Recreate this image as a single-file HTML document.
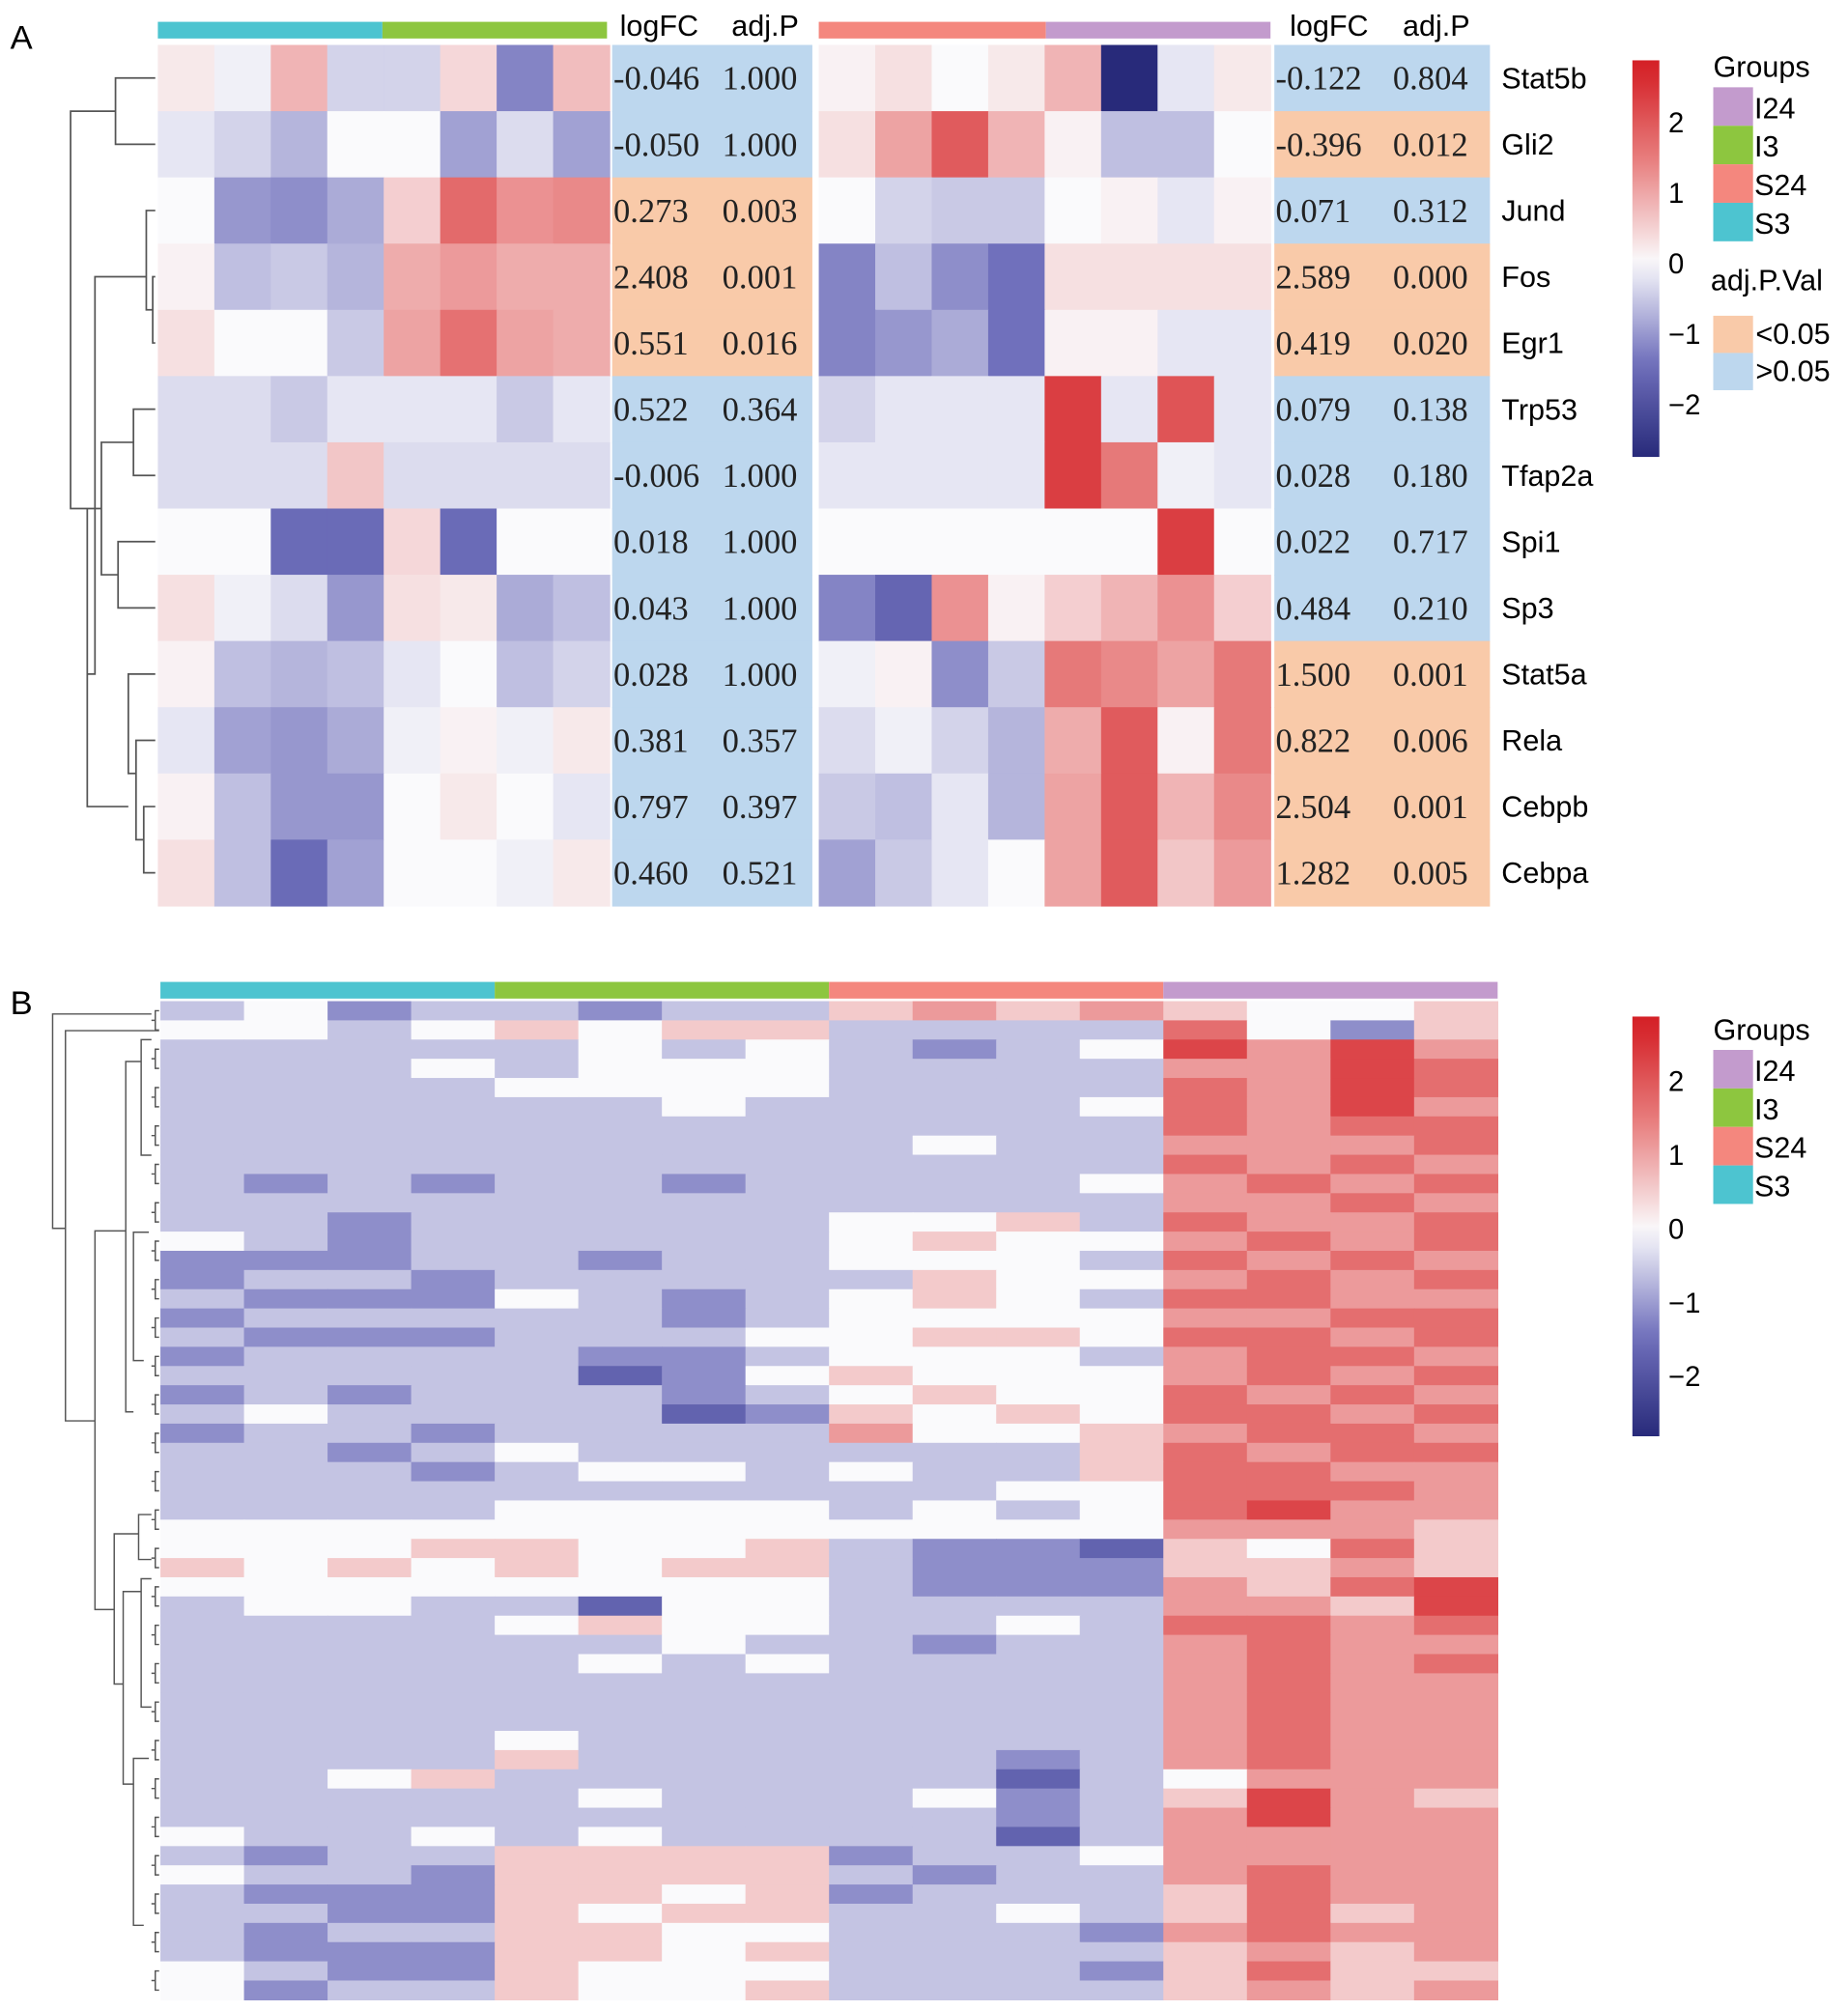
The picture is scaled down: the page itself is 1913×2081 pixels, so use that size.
<!DOCTYPE html>
<html><head><meta charset="utf-8">
<style>
html,body{margin:0;padding:0;background:#fff;}
svg{display:block;}
.sans{font-family:"Liberation Sans",sans-serif;}
.serif{font-family:"Liberation Serif",serif;}
</style></head>
<body>
<svg id="fig" width="1913" height="2081" viewBox="0 0 1440 1566" preserveAspectRatio="none" xmlns="http://www.w3.org/2000/svg">
<rect width="1440" height="1566" fill="#fff"/>
<text x="8" y="38" class="sans" font-size="26">A</text>
<text x="8" y="790" class="sans" font-size="26">B</text>
<g id="A"></g>
<g id="B"></g>
</svg>
<script>
const genesA = ["Stat5b","Gli2","Jund","Fos","Egr1","Trp53","Tfap2a","Spi1","Sp3","Stat5a","Rela","Cebpb","Cebpa"];
const leftVals = [
[0.2,-0.1,0.8,-0.4,-0.4,0.4,-1.2,0.7],
[-0.2,-0.4,-0.7,0,0,-0.9,-0.3,-0.9],
[0,-1.0,-1.1,-0.8,0.5,1.7,1.2,1.3],
[0.1,-0.6,-0.5,-0.7,0.9,1.1,0.9,0.9],
[0.3,0,0,-0.5,1.0,1.6,1.0,0.9],
[-0.3,-0.3,-0.5,-0.2,-0.2,-0.2,-0.5,-0.2],
[-0.3,-0.3,-0.3,0.6,-0.3,-0.3,-0.3,-0.3],
[0,0,-1.5,-1.5,0.4,-1.5,0,0],
[0.3,-0.1,-0.3,-1.0,0.3,0.2,-0.8,-0.6],
[0.1,-0.6,-0.7,-0.6,-0.2,0,-0.6,-0.4],
[-0.2,-0.9,-1.0,-0.8,-0.1,0.1,-0.1,0.2],
[0.1,-0.6,-1.0,-1.0,0,0.2,0,-0.2],
[0.3,-0.6,-1.5,-0.9,0,0,-0.1,0.2]];
const rightVals = [
[0.1,0.3,0,0.2,0.8,-2.7,-0.2,0.2],
[0.3,1.0,1.9,0.8,0.1,-0.6,-0.6,0],
[0,-0.4,-0.5,-0.5,0,0.1,-0.2,0.1],
[-1.2,-0.6,-1.1,-1.4,0.3,0.3,0.3,0.3],
[-1.2,-1.0,-0.8,-1.4,0.1,0.1,-0.2,-0.2],
[-0.4,-0.2,-0.2,-0.2,2.3,-0.2,2.0,-0.2],
[-0.2,-0.2,-0.2,-0.2,2.3,1.5,-0.1,-0.2],
[0,0,0,0,0,0,2.3,0],
[-1.2,-1.6,1.2,0.1,0.5,0.8,1.2,0.5],
[-0.1,0.1,-1.1,-0.5,1.5,1.3,1.0,1.5],
[-0.3,-0.1,-0.4,-0.7,0.9,1.9,0.1,1.5],
[-0.5,-0.6,-0.2,-0.7,1.0,1.9,0.8,1.3],
[-0.9,-0.5,-0.2,0,1.0,1.9,0.6,1.1]];
const leftLogFC = ["-0.046","-0.050","0.273","2.408","0.551","0.522","-0.006","0.018","0.043","0.028","0.381","0.797","0.460"];
const leftAdjP  = ["1.000","1.000","0.003","0.001","0.016","0.364","1.000","1.000","1.000","1.000","0.357","0.397","0.521"];
const rightLogFC = ["-0.122","-0.396","0.071","2.589","0.419","0.079","0.028","0.022","0.484","1.500","0.822","2.504","1.282"];
const rightAdjP  = ["0.804","0.012","0.312","0.000","0.020","0.138","0.180","0.717","0.210","0.001","0.006","0.001","0.005"];
const groupNames = ["I24","I3","S24","S3"];
const colorTicks = [2,1,0,-1,-2];
// panel B rows: each char is a level 0..8 (4 = 0), groups S3|I3|S24|I24
const rowsB = [
"3423323356565445","4434545533337425","3333343432348686","3334344433336687",
"3333444433337687","3333334333347686","3333333333337677","3333333334336667",
"3333333333337676","3232332333346767","3333333333336676","3323333344537667",
"4323333345446767","2223323344437676","2332333335446767","3222432345437766",
"2333332344446677","3222333445547767","2333322344436776","3333312454446767",
"2323332345447676","3433331254547767","2332333364456776","3323433333357677",
"3332344343357766","3333333333447776","3333444434347866","4444444444446665",
"4445544532215475","5454545532225565","4444444432226578","3443314433336658",
"3333454433437767","3333334332336766","3333343433336767","3333333333336766",
"3333333333336766","3333333333336766","3333433333336766","3333533333236766",
"3345333333134666","3333343334235865","3333333333236866","4334343333136666",
"3233555523346666","4332555532336766","3222554523335766","3322545533435756",
"3233554433326766","3222554533335656","4322544433325755","4233544533335656"];

const NS="http://www.w3.org/2000/svg";
function mk(tag, attrs, parent){const e=document.createElementNS(NS,tag);for(const k in attrs)e.setAttribute(k,attrs[k]);parent.appendChild(e);return e;}
const stops=[[-2.7,[40,42,122]],[-1.4,[112,112,188]],[0,[250,250,252]],[1.4,[232,128,128]],[2.7,[212,32,38]]];
function col(v){v=Math.max(-2.7,Math.min(2.7,v));for(let i=0;i<stops.length-1;i++){const a=stops[i],b=stops[i+1];if(v<=b[0]){const t=(v-a[0])/(b[0]-a[0]);const c=a[1].map((x,j)=>Math.round(x+(b[1][j]-x)*t));return `rgb(${c[0]},${c[1]},${c[2]})`;}}return "rgb(212,32,38)";}
const gcol={S3:"#4dc4d0",I3:"#8dc63f",S24:"#f4877e",I24:"#c39bcd"};

// ---------- Panel A ----------
const A=document.getElementById('A');
const aTop=35, aRowH=51.6, cellW=44;
function yA(i){return aTop+i*aRowH;}
function heat(vals,x0,name){
  vals.forEach((row,i)=>row.forEach((v,j)=>{
    const r=mk('rect',{x:x0+j*cellW,y:yA(i),width:cellW+0.5,height:aRowH+0.5,fill:col(v)},A);
    
    
  }));
}
heat(leftVals,123,'left-heatmap');
heat(rightVals,638,'right-heatmap');
[[123,298,'S3'],[298,473,'I3'],[638,815,'S24'],[815,990,'I24']].forEach(g=>{
  const r=mk('rect',{x:g[0],y:17,width:g[1]-g[0],height:13,fill:gcol[g[2]]},A);
  
  
});
function table(x0,x1,fc,p,name){
  fc.forEach((v,i)=>{
    const sig=parseFloat(p[i])<0.05;
    const r=mk('rect',{x:x0,y:yA(i),width:x1-x0,height:aRowH+0.5,fill:sig?"#f9caa9":"#bdd7ee"},A);
    
    
    const t=mk('text',{x:x0+1,y:yA(i)+aRowH/2+9,'font-size':26,class:'serif',fill:'#222'},A);
    t.textContent=v;
    
    
    const t2=mk('text',{x:x0+(x1-x0)*0.55,y:yA(i)+aRowH/2+9,'font-size':26,class:'serif',fill:'#222'},A);
    t2.textContent=p[i];
    
    
  });
}
table(477,633,leftLogFC,leftAdjP,'left-table');
table(993,1161,rightLogFC,rightAdjP,'right-table');
[[483,'logFC'],[570,'adj.P'],[1005,'logFC'],[1093,'adj.P']].forEach(h=>{
  const t=mk('text',{x:h[0],y:28,'font-size':23,class:'sans'},A);t.textContent=h[1];
  
  
});
genesA.forEach((g,i)=>{
  const t=mk('text',{x:1170,y:yA(i)+aRowH/2+8,'font-size':23,class:'sans'},A);t.textContent=g;
  
  
});
function yc(i){return yA(i)+aRowH/2;}
let dpath="";
function br(x,y1,y2,x1,x2){dpath+=`M${x1},${y1}H${x}V${y2}H${x2}`;}
br(90,yc(0),yc(1),121,121);
br(119,yc(3),yc(4),121,121);
br(114,yc(2),(yc(3)+yc(4))/2,121,119);
br(104,yc(5),yc(6),121,121);
br(92,yc(7),yc(8),121,121);
br(79,(yc(5)+yc(6))/2,(yc(7)+yc(8))/2,104,92);
br(112,yc(11),yc(12),121,121);
br(106,yc(10),(yc(11)+yc(12))/2,121,112);
br(100,yc(9),(yc(10)+yc(11))/2,121,106);
br(68,(yc(5)+yc(8))/2,(yc(10)+yc(12))/2,79,100);
br(74,(yc(2)+yc(4))/2,(yc(7)+yc(11))/2,114,68);
br(55,(yc(0)+yc(1))/2,(yc(4)+yc(9))/2,90,74);
const pa=mk('path',{d:dpath,fill:'none',stroke:'#555','stroke-width':1.3},A);



function legend(g,cbTop,cbBot,zeroY,perUnit,grpY,name){
  const id='grad'+name;
  const defs=mk('defs',{},g);
  const lg=mk('linearGradient',{id:id,x1:0,y1:0,x2:0,y2:1},defs);
  for(let k=0;k<=20;k++){const v=2.8-k*(5.5/20);mk('stop',{offset:(k/20),'stop-color':col(v)},lg);}
  const r=mk('rect',{x:1272,y:cbTop,width:21,height:cbBot-cbTop,fill:`url(#${id})`},g);
  
  
  colorTicks.forEach(v=>{
    const t=mk('text',{x:1300,y:zeroY-v*perUnit+8,'font-size':22,class:'sans'},g);
    t.textContent=v<0?'\u2212'+(-v):String(v);
    
    
  });
  const gt=mk('text',{x:1335,y:grpY-8,'font-size':23,class:'sans'},g);gt.textContent='Groups';
  
  
  groupNames.forEach((n,i)=>{
    const b=mk('rect',{x:1335,y:grpY+i*30,width:31,height:30,fill:gcol[n]},g);
    
    
    const t=mk('text',{x:1367,y:grpY+i*30+24,'font-size':23,class:'sans'},g);t.textContent=n;
    
    
  });
}
legend(A,47,356,205,55,68,'A');
const pt=mk('text',{x:1333,y:226,'font-size':23,class:'sans'},A);pt.textContent='adj.P.Val';


[['<0.05','#f9caa9'],['>0.05','#bdd7ee']].forEach((e,i)=>{
  const b=mk('rect',{x:1335,y:246+i*29,width:31,height:29,fill:e[1]},A);
  
  
  const t=mk('text',{x:1368,y:268+i*29,'font-size':23,class:'sans'},A);t.textContent=e[0];
  
  
});

// ---------- Panel B ----------
const B=document.getElementById('B');
const bTop=780,bBot=1558,bX0=125,bX1=1167;
const bRowH=(bBot-bTop)/rowsB.length, bColW=(bX1-bX0)/16;
rowsB.forEach((s,i)=>{
  for(let j=0;j<16;j++){
    const v=(parseInt(s[j])-4)*0.55;
    const r=mk('rect',{x:bX0+j*bColW,y:bTop+i*bRowH,width:bColW+0.5,height:bRowH+0.5,fill:col(v)},B);
    
    
  }
});
['S3','I3','S24','I24'].forEach((n,i)=>{
  const r=mk('rect',{x:bX0+i*bColW*4,y:765,width:bColW*4,height:13,fill:gcol[n]},B);
  
  
});
dpath="";
br(41,790,957,118,51);
br(51,803,1107,124,74);
br(74,959,1254,98,89);
br(98,827,1100,110,104);
br(110,810,900,118,118);
br(104,960,1060,116,112);
br(89,1195,1312,108,96);
br(108,1180,1215,118,118);
br(96,1240,1390,110,104);
br(110,1230,1330,118,118);
br(104,1370,1500,116,112);
for(let i=0;i+1<rowsB.length;i+=2){
  const y1=bTop+(i+0.5)*bRowH,y2=bTop+(i+1.5)*bRowH;
  dpath+=`M124,${y1}H121V${y2}H124M121,${(y1+y2)/2}H118`;
}
const pb=mk('path',{d:dpath,fill:'none',stroke:'#555','stroke-width':1.1},B);


legend(B,792,1119,957,57.5,818,'B');
</script>
</body></html>
